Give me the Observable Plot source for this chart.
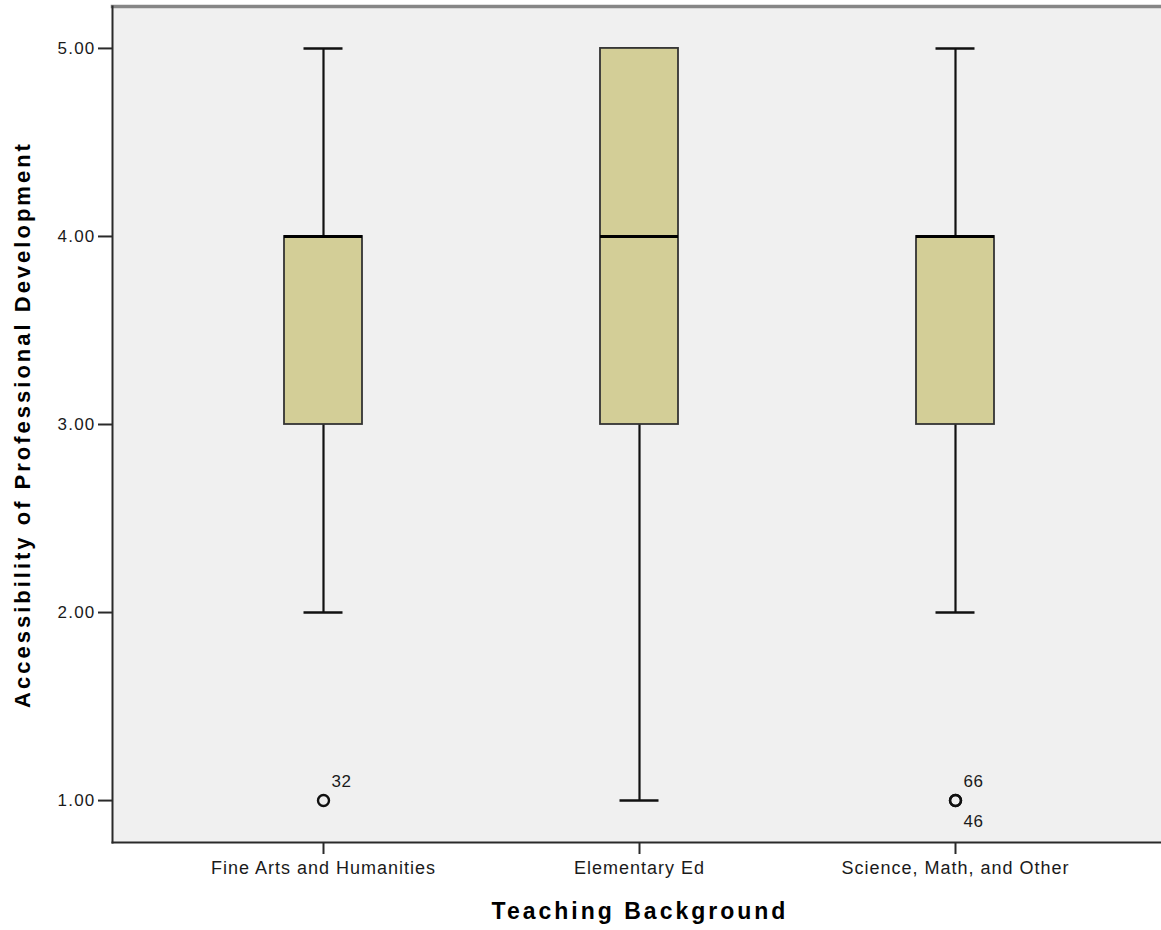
<!DOCTYPE html>
<html>
<head>
<meta charset="utf-8">
<script src="https://cdn.jsdelivr.net/npm/d3@7"></script>
<script src="https://cdn.jsdelivr.net/npm/@observablehq/plot@0.6"></script>
<style>
  html, body { margin: 0; padding: 0; background: #fff; }
  #chart svg { display: block; font-family: "Liberation Sans", Arial, sans-serif; }
  g[aria-label="x-axis tick label"] text { letter-spacing: 1px; }
  g[aria-label="y-axis tick label"] text { letter-spacing: 1.2px; }
  .ttl { letter-spacing: 3px; }
  .olab { letter-spacing: 0.5px; }
</style>
</head>
<body>
<div id="chart"></div>
<script>
const categories = ["Fine Arts and Humanities", "Elementary Ed", "Science, Math, and Other"];
const whiskerLow = [2, 1, 2];
const q1 = [3, 3, 3];
const median = [4, 4, 4];
const q3 = [4, 5, 4];
const whiskerHigh = [5, 5, 5];
const outlierCategory = ["Fine Arts and Humanities", "Science, Math, and Other", "Science, Math, and Other"];
const outlierValue = [1, 1, 1];
const outlierId = ["32", "66", "46"];
const outlierLabelSide = ["above", "above", "below"];
const yTicks = [1, 2, 3, 4, 5];
const yTitle = "Accessibility of Professional Development";
const xTitle = "Teaching Background";

const boxes = categories.map((c, i) => ({
  cat: c, lo: whiskerLow[i], q1: q1[i], med: median[i], q3: q3[i], hi: whiskerHigh[i]
}));
const outliers = outlierId.map((id, i) => ({
  cat: outlierCategory[i], value: outlierValue[i], id, side: outlierLabelSide[i]
}));

const font = "'Liberation Sans', Arial, sans-serif";

const chart = Plot.plot({
  width: 1161,
  height: 930,
  marginLeft: 112,
  marginRight: 0,
  marginTop: 6,
  marginBottom: 88,
  style: { background: "#fff", fontFamily: font, color: "#111" },
  x: { type: "band", domain: categories, range: [165, 1113], padding: 0, axis: null },
  y: { domain: [0.777, 5.223], axis: null },
  marks: [
    Plot.frame({ fill: "#f0f0f0", stroke: null }),
    Plot.frame({ anchor: "top", stroke: "#868686", strokeWidth: 3.5 }),
    Plot.frame({ anchor: "left", stroke: "#2a2a2a", strokeWidth: 2 }),
    Plot.frame({ anchor: "bottom", stroke: "#2a2a2a", strokeWidth: 2 }),
    Plot.axisY({
      ticks: yTicks, tickFormat: d => d.toFixed(2), tickSize: 14, tickPadding: 3,
      fontSize: 17, stroke: "#2a2a2a", strokeWidth: 2, fill: "#1a1a1a", label: null
    }),
    Plot.axisX({
      domain: categories, tickSize: 12, tickPadding: 7, fontSize: 18,
      stroke: "#2a2a2a", strokeWidth: 2, fill: "#1a1a1a", label: null
    }),
    Plot.ruleX(boxes, { x: "cat", y1: "lo", y2: "hi", stroke: "#111", strokeWidth: 2.2 }),
    Plot.tickY(boxes, { x: "cat", y: "lo", insetLeft: 138.5, insetRight: 138.5, stroke: "#111", strokeWidth: 2.5 }),
    Plot.tickY(boxes, { x: "cat", y: "hi", insetLeft: 138.5, insetRight: 138.5, stroke: "#111", strokeWidth: 2.5 }),
    Plot.barY(boxes, {
      x: "cat", y1: "q1", y2: "q3", insetLeft: 119, insetRight: 119,
      fill: "#d3ce97", stroke: "#333", strokeWidth: 1.8
    }),
    Plot.tickY(boxes, { x: "cat", y: "med", insetLeft: 119, insetRight: 119, stroke: "#000", strokeWidth: 3 }),
    Plot.dot(outliers, { x: "cat", y: "value", r: 5.5, stroke: "#111", strokeWidth: 2.4, fill: "none" }),
    Plot.text(outliers.filter(d => d.side === "above"), {
      x: "cat", y: "value", text: "id", dx: 8, dy: -19, textAnchor: "start",
      fontSize: 17, fill: "#1a1a1a", className: "olab"
    }),
    Plot.text(outliers.filter(d => d.side === "below"), {
      x: "cat", y: "value", text: "id", dx: 8, dy: 21, textAnchor: "start",
      fontSize: 17, fill: "#1a1a1a", className: "olab"
    }),
    Plot.text([yTitle], {
      frameAnchor: "left", dx: -90, rotate: -90, text: d => d, textAnchor: "middle",
      fontSize: 22, fontWeight: "bold", fill: "#000", className: "ttl"
    }),
    Plot.text([xTitle], {
      frameAnchor: "bottom", dx: 3, dy: 76, text: d => d, textAnchor: "middle",
      fontSize: 23, fontWeight: "bold", fill: "#000", className: "ttl"
    })
  ]
});
document.getElementById("chart").appendChild(chart);
</script>
</body>
</html>
